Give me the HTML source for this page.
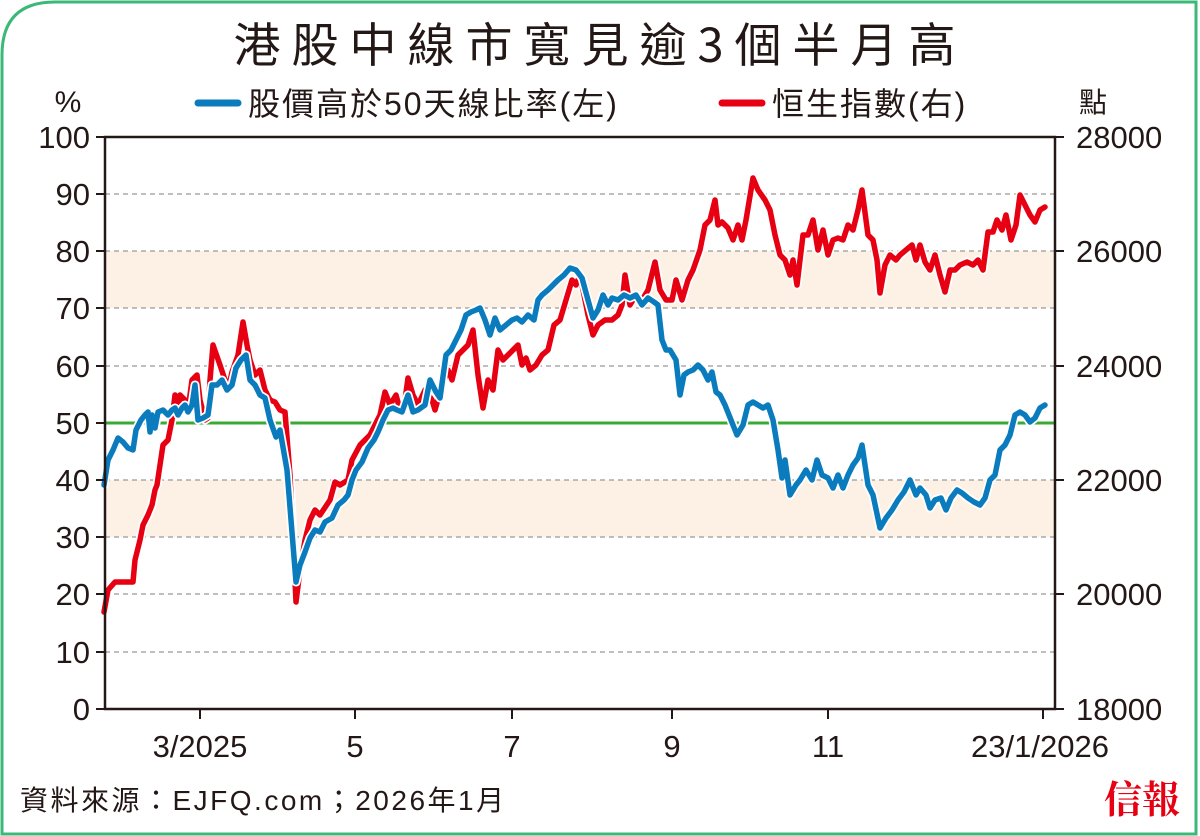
<!DOCTYPE html>
<html><head><meta charset="utf-8"><style>
body{margin:0;background:#fff;}
svg{display:block;font-family:"Liberation Sans","Noto Sans CJK TC",sans-serif;}
</style></head><body>
<svg width="1200" height="836" viewBox="0 0 1200 836">
<path d="M2,834 L2,55 Q2,2 55,2 L1196,2 L1196,834 Z" fill="#fff" stroke="#3cb878" stroke-width="3"/>
<text x="600" y="62" font-size="47" text-anchor="middle" fill="#231815" font-family="'Noto Sans CJK TC',sans-serif" font-weight="400" letter-spacing="11">港股中線市寬見逾3個半月高</text>
<text x="68" y="112" font-size="30" text-anchor="middle" fill="#231815">%</text>
<text x="1093" y="112" font-size="28" text-anchor="middle" fill="#231815" font-family="'Noto Sans CJK TC',sans-serif">點</text>
<line x1="198" y1="103" x2="238" y2="103" stroke="#0a7bbd" stroke-width="7" stroke-linecap="round"/>
<text x="248" y="115" font-size="32" fill="#231815" letter-spacing="2" font-family="'Liberation Sans','Noto Sans CJK TC',sans-serif">股價高於50天線比率(左)</text>
<line x1="722" y1="103" x2="762" y2="103" stroke="#e60012" stroke-width="7" stroke-linecap="round"/>
<text x="772" y="115" font-size="32" fill="#231815" letter-spacing="2" font-family="'Liberation Sans','Noto Sans CJK TC',sans-serif">恒生指數(右)</text>
<rect x="105" y="251" width="950" height="57" fill="#fdf1e6"/>
<rect x="105" y="480" width="950" height="57" fill="#fdf1e6"/>
<g stroke="#999" stroke-width="1.2" stroke-dasharray="5,4">
<line x1="105" y1="194" x2="1055" y2="194"/><line x1="105" y1="251" x2="1055" y2="251"/><line x1="105" y1="308" x2="1055" y2="308"/><line x1="105" y1="366" x2="1055" y2="366"/><line x1="105" y1="480" x2="1055" y2="480"/><line x1="105" y1="537" x2="1055" y2="537"/><line x1="105" y1="594" x2="1055" y2="594"/><line x1="105" y1="652" x2="1055" y2="652"/>
</g>
<line x1="105" y1="423" x2="1055" y2="423" stroke="#3aaa35" stroke-width="3"/>
<g fill="none" stroke-linejoin="round" stroke-linecap="round">
<polyline stroke="#fff" stroke-width="9" points="104,612 108,590 115,582 122,582 133,582 135,560 140,540 143,525 148,515 152,505 155,490 157,485 160,465 163,445 168,440 172,420 175,395 178,410 180,395 185,400 188,410 192,380 197,375 200,400 205,420 208,418 210,380 213,345 220,365 225,380 228,390 232,372 238,355 243,322 247,345 250,360 255,375 260,370 265,390 270,400 275,402 280,410 285,412 290,475 296,602 300,570 305,540 310,520 315,510 320,515 330,500 335,482 340,485 348,480 352,460 360,445 370,435 380,415 385,392 390,405 396,395 400,410 405,400 408,378 413,395 418,405 425,390 432,400 435,410 442,385 448,370 452,380 458,355 463,350 468,345 473,330 478,375 483,408 488,380 493,390 498,350 503,360 508,355 513,350 518,345 522,365 526,358 530,370 536,365 542,355 548,350 554,325 560,320 566,300 572,280 576,285 580,275 588,315 593,335 598,325 605,320 612,320 618,315 622,305 625,275 630,305 636,295 642,300 648,290 655,262 660,290 666,300 672,300 676,280 682,300 688,280 693,270 700,250 705,225 710,220 715,200 718,225 722,222 728,228 733,240 738,225 742,240 746,220 753,178 758,190 765,200 770,210 775,235 780,255 785,260 790,275 793,260 797,285 803,235 808,235 813,220 818,250 823,230 828,255 833,240 838,238 843,240 848,225 853,230 858,210 862,190 868,235 873,240 877,260 880,293 885,265 890,255 896,260 900,255 906,250 912,245 916,260 920,245 925,262 930,270 935,255 940,275 945,292 950,270 955,270 960,265 967,262 973,265 978,260 983,270 988,232 993,232 997,220 1002,230 1006,215 1011,240 1016,225 1020,195 1025,205 1030,215 1035,222 1040,210 1045,207"/>
<polyline stroke="#e60012" stroke-width="5.5" points="104,612 108,590 115,582 122,582 133,582 135,560 140,540 143,525 148,515 152,505 155,490 157,485 160,465 163,445 168,440 172,420 175,395 178,410 180,395 185,400 188,410 192,380 197,375 200,400 205,420 208,418 210,380 213,345 220,365 225,380 228,390 232,372 238,355 243,322 247,345 250,360 255,375 260,370 265,390 270,400 275,402 280,410 285,412 290,475 296,602 300,570 305,540 310,520 315,510 320,515 330,500 335,482 340,485 348,480 352,460 360,445 370,435 380,415 385,392 390,405 396,395 400,410 405,400 408,378 413,395 418,405 425,390 432,400 435,410 442,385 448,370 452,380 458,355 463,350 468,345 473,330 478,375 483,408 488,380 493,390 498,350 503,360 508,355 513,350 518,345 522,365 526,358 530,370 536,365 542,355 548,350 554,325 560,320 566,300 572,280 576,285 580,275 588,315 593,335 598,325 605,320 612,320 618,315 622,305 625,275 630,305 636,295 642,300 648,290 655,262 660,290 666,300 672,300 676,280 682,300 688,280 693,270 700,250 705,225 710,220 715,200 718,225 722,222 728,228 733,240 738,225 742,240 746,220 753,178 758,190 765,200 770,210 775,235 780,255 785,260 790,275 793,260 797,285 803,235 808,235 813,220 818,250 823,230 828,255 833,240 838,238 843,240 848,225 853,230 858,210 862,190 868,235 873,240 877,260 880,293 885,265 890,255 896,260 900,255 906,250 912,245 916,260 920,245 925,262 930,270 935,255 940,275 945,292 950,270 955,270 960,265 967,262 973,265 978,260 983,270 988,232 993,232 997,220 1002,230 1006,215 1011,240 1016,225 1020,195 1025,205 1030,215 1035,222 1040,210 1045,207"/>
<polyline stroke="#fff" stroke-width="9" points="104,485 108,460 113,450 118,438 123,442 128,448 133,450 136,430 141,420 145,415 148,412 150,432 152,415 155,428 158,412 163,410 168,415 172,410 175,408 178,415 182,408 185,405 188,412 192,405 195,385 198,420 203,418 208,415 212,385 217,385 222,380 227,390 232,385 236,368 241,360 246,355 250,380 255,385 260,395 265,398 270,420 276,437 280,430 287,470 296,582 300,565 305,552 310,538 315,530 320,532 325,522 332,518 338,505 344,500 348,495 352,480 356,470 362,462 368,448 374,440 378,432 383,420 388,410 393,408 397,410 402,412 408,395 413,412 418,410 425,405 430,380 436,392 440,398 446,355 451,350 456,340 461,330 466,315 471,312 476,310 480,308 485,320 490,335 495,318 500,330 506,325 512,320 517,318 522,322 528,315 534,320 538,300 542,295 548,290 553,285 558,280 564,275 570,268 576,270 582,278 588,300 593,318 598,310 603,295 608,305 612,298 618,300 624,295 630,298 636,295 642,305 648,298 654,302 658,305 662,340 666,350 670,350 676,360 680,395 684,375 688,372 693,370 698,365 703,370 708,380 712,372 716,392 720,395 725,405 731,420 737,435 743,425 748,405 753,402 758,405 763,408 768,405 773,420 778,450 782,478 785,460 790,495 796,485 800,480 806,470 812,480 817,460 822,475 828,478 833,488 838,475 843,488 848,475 853,465 858,458 862,445 868,485 873,495 880,528 886,518 892,510 898,500 904,492 910,480 916,495 920,488 926,495 930,508 935,500 941,498 946,510 951,498 957,490 962,493 968,498 974,502 980,505 985,498 990,480 995,475 1000,450 1005,445 1010,435 1015,415 1020,412 1025,415 1030,422 1035,418 1040,408 1045,405"/>
<polyline stroke="#0a7bbd" stroke-width="5.5" points="104,485 108,460 113,450 118,438 123,442 128,448 133,450 136,430 141,420 145,415 148,412 150,432 152,415 155,428 158,412 163,410 168,415 172,410 175,408 178,415 182,408 185,405 188,412 192,405 195,385 198,420 203,418 208,415 212,385 217,385 222,380 227,390 232,385 236,368 241,360 246,355 250,380 255,385 260,395 265,398 270,420 276,437 280,430 287,470 296,582 300,565 305,552 310,538 315,530 320,532 325,522 332,518 338,505 344,500 348,495 352,480 356,470 362,462 368,448 374,440 378,432 383,420 388,410 393,408 397,410 402,412 408,395 413,412 418,410 425,405 430,380 436,392 440,398 446,355 451,350 456,340 461,330 466,315 471,312 476,310 480,308 485,320 490,335 495,318 500,330 506,325 512,320 517,318 522,322 528,315 534,320 538,300 542,295 548,290 553,285 558,280 564,275 570,268 576,270 582,278 588,300 593,318 598,310 603,295 608,305 612,298 618,300 624,295 630,298 636,295 642,305 648,298 654,302 658,305 662,340 666,350 670,350 676,360 680,395 684,375 688,372 693,370 698,365 703,370 708,380 712,372 716,392 720,395 725,405 731,420 737,435 743,425 748,405 753,402 758,405 763,408 768,405 773,420 778,450 782,478 785,460 790,495 796,485 800,480 806,470 812,480 817,460 822,475 828,478 833,488 838,475 843,488 848,475 853,465 858,458 862,445 868,485 873,495 880,528 886,518 892,510 898,500 904,492 910,480 916,495 920,488 926,495 930,508 935,500 941,498 946,510 951,498 957,490 962,493 968,498 974,502 980,505 985,498 990,480 995,475 1000,450 1005,445 1010,435 1015,415 1020,412 1025,415 1030,422 1035,418 1040,408 1045,405"/>
</g>
<rect x="105" y="137" width="950" height="572" stroke="#231815" stroke-width="2.5" fill="none"/>
<g stroke="#231815" stroke-width="2">
<line x1="96" y1="137" x2="105" y2="137"/><line x1="96" y1="194" x2="105" y2="194"/><line x1="96" y1="251" x2="105" y2="251"/><line x1="96" y1="308" x2="105" y2="308"/><line x1="96" y1="366" x2="105" y2="366"/><line x1="96" y1="423" x2="105" y2="423"/><line x1="96" y1="480" x2="105" y2="480"/><line x1="96" y1="537" x2="105" y2="537"/><line x1="96" y1="594" x2="105" y2="594"/><line x1="96" y1="652" x2="105" y2="652"/><line x1="96" y1="709" x2="105" y2="709"/>
<line x1="1055" y1="137" x2="1064" y2="137"/><line x1="1055" y1="251" x2="1064" y2="251"/><line x1="1055" y1="366" x2="1064" y2="366"/><line x1="1055" y1="480" x2="1064" y2="480"/><line x1="1055" y1="594" x2="1064" y2="594"/><line x1="1055" y1="709" x2="1064" y2="709"/>
<line x1="200" y1="709" x2="200" y2="719"/><line x1="355" y1="709" x2="355" y2="719"/><line x1="512" y1="709" x2="512" y2="719"/><line x1="672" y1="709" x2="672" y2="719"/><line x1="828" y1="709" x2="828" y2="719"/><line x1="1043" y1="709" x2="1043" y2="719"/>
</g>
<g font-size="31" fill="#231815" text-anchor="end">
<text x="90" y="148">100</text><text x="90" y="205">90</text><text x="90" y="262">80</text><text x="90" y="319">70</text><text x="90" y="377">60</text><text x="90" y="434">50</text><text x="90" y="491">40</text><text x="90" y="548">30</text><text x="90" y="605">20</text><text x="90" y="663">10</text><text x="90" y="720">0</text>
</g>
<g font-size="31" fill="#231815" text-anchor="start">
<text x="1076" y="148">28000</text><text x="1076" y="262">26000</text><text x="1076" y="377">24000</text><text x="1076" y="491">22000</text><text x="1076" y="605">20000</text><text x="1076" y="720">18000</text>
</g>
<g font-size="31" fill="#231815" text-anchor="middle">
<text x="200" y="757">3/2025</text><text x="355" y="757">5</text><text x="512" y="757">7</text><text x="672" y="757">9</text><text x="828" y="757">11</text><text x="1040" y="757">23/1/2026</text>
</g>
<text x="20" y="810" font-size="28" fill="#231815" letter-spacing="2.5" font-family="'Liberation Sans','Noto Sans CJK TC',sans-serif">資料來源：EJFQ.com；2026年1月</text>
<text x="1142" y="813" font-size="38" fill="#e60012" text-anchor="middle" font-weight="bold" font-family="'Noto Serif CJK SC','Noto Sans CJK TC',serif">信報</text>
</svg>
</body></html>
